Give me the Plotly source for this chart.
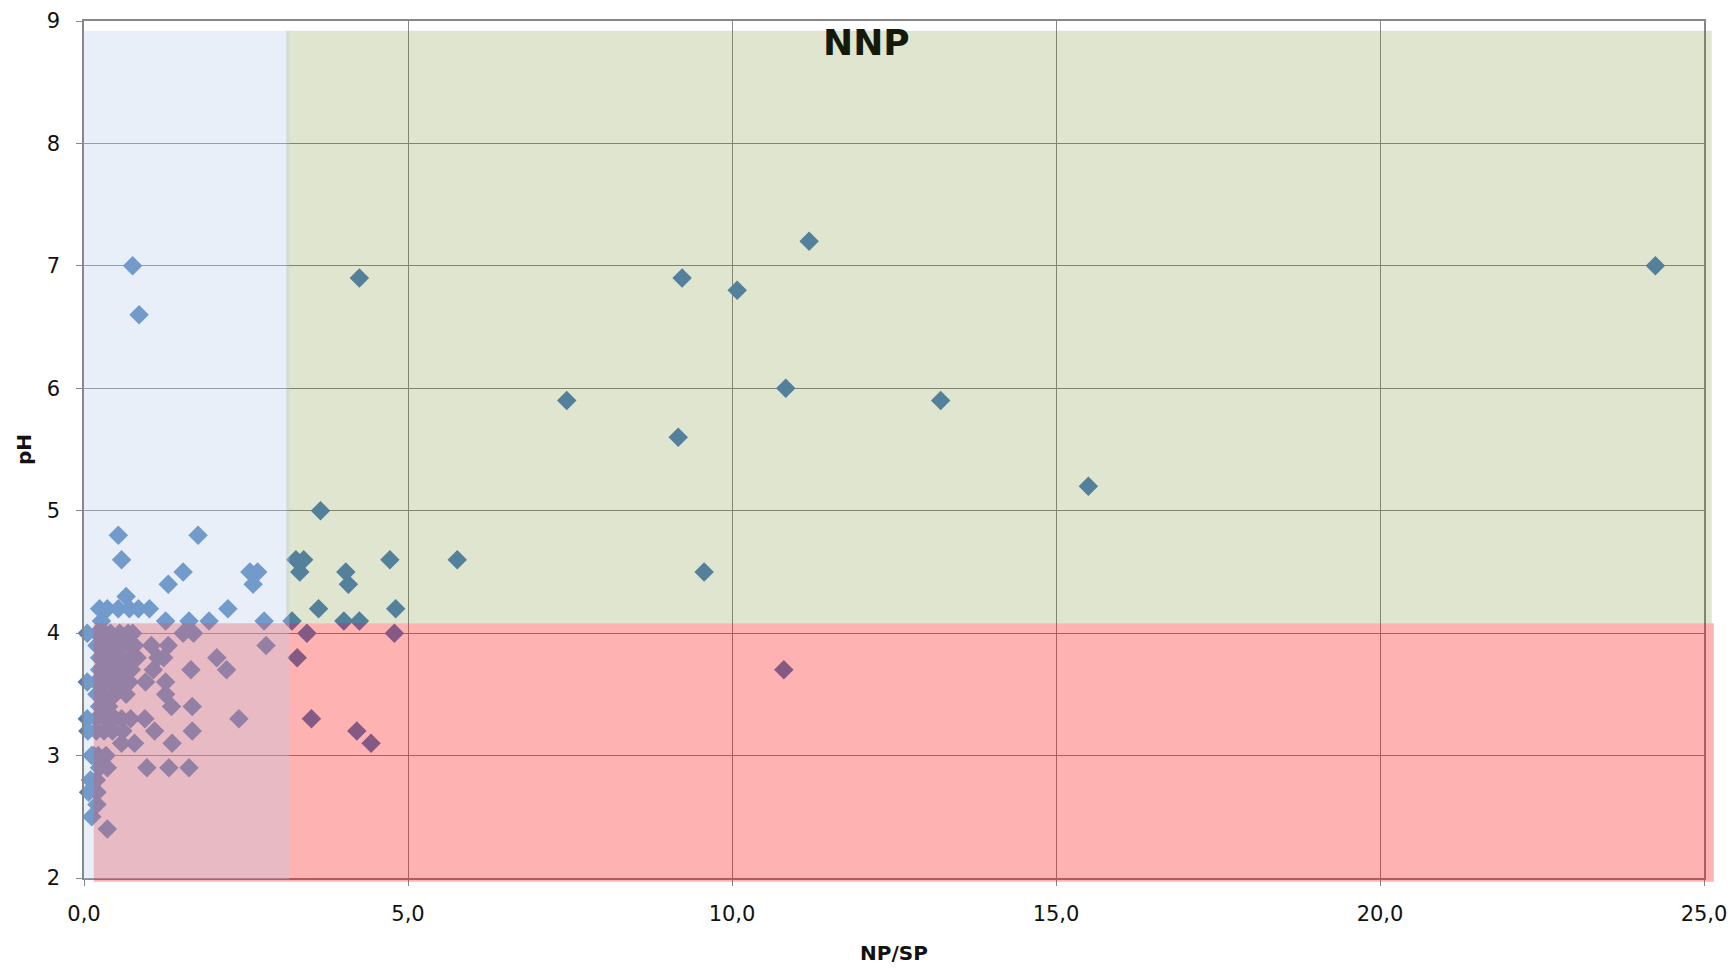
import plotly.graph_objects as go

# NP/SP ratio and pH of samples
np_sp = [
    0.75, 0.85, 4.25, 9.23, 11.19, 10.08, 24.25, 7.45, 10.83, 13.22, 9.17, 15.5,
    3.65, 9.57, 5.76, 4.72, 10.8,
    0.53, 1.76, 0.58, 1.53, 1.30, 2.56, 2.68, 2.61, 3.27, 3.39, 3.33, 4.04, 4.08,
    3.62, 4.81, 3.21, 4.01, 4.25, 3.44, 4.79, 3.29, 3.51, 4.21, 4.43,
    0.24, 0.36, 0.53, 0.70, 0.84, 1.01, 2.22, 0.65,
    0.27, 1.26, 1.62, 1.93, 2.78,
    0.20, 0.32, 0.41, 0.55, 0.68, 0.75, 1.53, 1.69,
    0.20, 0.34, 0.49, 0.61, 0.78, 1.04, 1.30, 2.81,
    0.24, 0.39, 0.55, 0.72, 0.82, 1.14, 1.23, 2.05,
    0.24, 0.34, 0.49, 0.61, 0.73, 1.07, 1.65, 2.20,
    0.19, 0.31, 0.44, 0.58, 0.70, 0.95, 1.26,
    0.20, 0.32, 0.48, 0.65, 1.26,
    0.24, 0.38, 1.35, 1.67,
    0.19, 0.34, 0.48, 0.58, 0.72, 0.94, 2.39,
    0.19, 0.31, 0.44, 0.60, 1.09, 1.67,
    0.58, 0.78, 1.36,
    0.12, 0.22, 0.34,
    0.24, 0.36, 0.97, 1.31, 1.62,
    0.10, 0.19, 0.07, 0.20, 0.20, 0.12, 0.36,
    0.05, 0.05, 0.06, 0.05, 0.28, 0.45, 0.15, 0.30,
]
ph = [
    7.0, 6.6, 6.9, 6.9, 7.2, 6.8, 7.0, 5.9, 6.0, 5.9, 5.6, 5.2,
    5.0, 4.5, 4.6, 4.6, 3.7,
    4.8, 4.8, 4.6, 4.5, 4.4, 4.5, 4.5, 4.4, 4.6, 4.6, 4.5, 4.5, 4.4,
    4.2, 4.2, 4.1, 4.1, 4.1, 4.0, 4.0, 3.8, 3.3, 3.2, 3.1,
    4.2, 4.2, 4.2, 4.2, 4.2, 4.2, 4.2, 4.3,
    4.1, 4.1, 4.1, 4.1, 4.1,
    4.0, 4.0, 4.0, 4.0, 4.0, 4.0, 4.0, 4.0,
    3.9, 3.9, 3.9, 3.9, 3.9, 3.9, 3.9, 3.9,
    3.8, 3.8, 3.8, 3.8, 3.8, 3.8, 3.8, 3.8,
    3.7, 3.7, 3.7, 3.7, 3.7, 3.7, 3.7, 3.7,
    3.6, 3.6, 3.6, 3.6, 3.6, 3.6, 3.6,
    3.5, 3.5, 3.5, 3.5, 3.5,
    3.4, 3.4, 3.4, 3.4,
    3.3, 3.3, 3.3, 3.3, 3.3, 3.3, 3.3,
    3.2, 3.2, 3.2, 3.2, 3.2, 3.2,
    3.1, 3.1, 3.1,
    3.0, 3.0, 3.0,
    2.9, 2.9, 2.9, 2.9, 2.9,
    2.8, 2.8, 2.7, 2.7, 2.6, 2.5, 2.4,
    3.6, 3.3, 3.2, 4.0, 3.9, 3.5, 3.0, 3.4,
]

x_ticks = [0, 5, 10, 15, 20, 25]
y_ticks = [2, 3, 4, 5, 6, 7, 8, 9]
X_RANGE = [0, 25]
Y_RANGE = [2, 9]

# Zone overlays in data units (x0, x1, y0, y1, fill)
zones = [
    (0.15, 25.15, 1.97, 4.08, "rgba(255,0,0,0.30)"),
    (3.12, 25.12, 4.08, 8.92, "rgba(100,125,20,0.20)"),
    (0.0, 3.17, 1.99, 8.92, "rgba(185,206,233,0.33)"),
]


def px(v):
    return (v - X_RANGE[0]) / (X_RANGE[1] - X_RANGE[0])


def py(v):
    return (v - Y_RANGE[0]) / (Y_RANGE[1] - Y_RANGE[0])


FONT = "DejaVu Sans"
GRID = "#878787"

fig = go.Figure()
fig.add_trace(go.Scatter(
    x=np_sp, y=ph, mode="markers",
    marker=dict(symbol="diamond", size=15, color="#4F81BD", line=dict(width=0)),
    hoverinfo="x+y", showlegend=False, cliponaxis=False,
))

# paper-referenced so the zones may spill slightly past the axes, as in the original
for x0, x1, y0, y1, c in zones:
    fig.add_shape(type="rect", xref="paper", yref="paper",
                  x0=px(x0), x1=px(x1), y0=py(y0), y1=py(y1),
                  fillcolor=c, line=dict(width=0), layer="above")

fig.add_annotation(text="<b>NNP</b>", xref="paper", yref="paper", x=0.483, y=0.975,
                   showarrow=False, font=dict(family=FONT, size=36, color="#14190A"),
                   xanchor="center", yanchor="middle")

fig.update_layout(
    width=1732, height=970,
    margin=dict(l=84, r=28, t=21, b=92),
    paper_bgcolor="white", plot_bgcolor="white",
    separators=",.",
    font=dict(family=FONT, size=21, color="#111111"),
)
fig.update_xaxes(
    range=X_RANGE, tickvals=x_ticks, tickformat=".1f", automargin=False,
    showgrid=True, gridcolor=GRID, gridwidth=1.3,
    showline=True, linecolor=GRID, linewidth=1.5, mirror=True,
    ticks="outside", ticklen=6, tickcolor=GRID, zeroline=False,
    ticklabelstandoff=10,
    title=dict(text="<b>NP/SP</b>", font=dict(family=FONT, size=20), standoff=21),
)
fig.update_yaxes(
    range=Y_RANGE, tickvals=y_ticks, automargin=False,
    showgrid=True, gridcolor=GRID, gridwidth=1.3,
    showline=True, linecolor=GRID, linewidth=1.5, mirror=True,
    ticks="outside", ticklen=6, tickcolor=GRID, zeroline=False,
    ticklabelstandoff=12,
    title=dict(text="<b>pH</b>", font=dict(family=FONT, size=20), standoff=10),
)

fig.write_html("out.html")
